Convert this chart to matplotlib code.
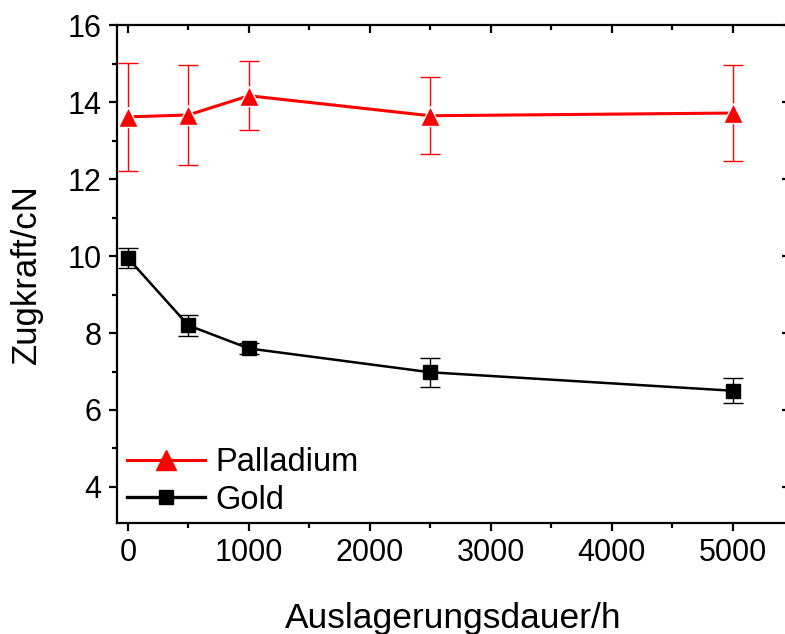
import numpy as np
import matplotlib
matplotlib.use('Agg')
import matplotlib.pyplot as plt
from matplotlib.ticker import MultipleLocator
from matplotlib.lines import Line2D

plt.rcParams['font.family'] = ['Liberation Sans', 'DejaVu Sans']

# Auslagerungsdauer (h)
hours = [0, 500, 1000, 2500, 5000]

# Zugkraft (cN)
pd_force = [13.62, 13.67, 14.17, 13.65, 13.72]
pd_err = [1.40, 1.30, 0.90, 1.00, 1.25]
au_force = [9.95, 8.20, 7.60, 6.98, 6.50]
au_err = [0.27, 0.28, 0.15, 0.37, 0.32]

RED = '#ff0000'

fig = plt.figure(figsize=(7.85, 6.34), dpi=100)
ax = fig.add_axes([0.149, 0.175, 0.857, 0.785])

ax.errorbar(hours, pd_force, yerr=pd_err, color=RED, lw=2.2,
            marker='^', ms=14, mec='white', mew=1.0, capsize=7,
            elinewidth=1.0, capthick=1.0, zorder=3)
ax.errorbar(hours, au_force, yerr=au_err, color='black', lw=1.8,
            marker='s', ms=10.5, capsize=7, elinewidth=1.0, capthick=1.0,
            zorder=3)

ax.set_xlim(-90, 5471)
ax.set_ylim(3.06, 16)
ax.xaxis.set_major_locator(MultipleLocator(1000))
ax.xaxis.set_minor_locator(MultipleLocator(500))
ax.yaxis.set_major_locator(MultipleLocator(2))
ax.yaxis.set_minor_locator(MultipleLocator(1))

for s in ax.spines.values():
    s.set_linewidth(1.6)

ax.tick_params(which='both', direction='out', width=1.6, labelsize=22,
               bottom=True, left=True, top=False, right=False, pad=5)
ax.tick_params(which='major', length=6)
ax.tick_params(which='minor', length=3.5)

# inward ticks on top and right, without labels
sec_x = ax.secondary_xaxis('top')
sec_x.xaxis.set_major_locator(MultipleLocator(1000))
sec_x.xaxis.set_minor_locator(MultipleLocator(500))
sec_x.tick_params(which='both', direction='in', width=1.6, labeltop=False)
sec_x.tick_params(which='major', length=6)
sec_x.tick_params(which='minor', length=3.5)
sec_x.spines['top'].set_visible(False)

sec_y = ax.secondary_yaxis('right')
sec_y.yaxis.set_major_locator(MultipleLocator(2))
sec_y.yaxis.set_minor_locator(MultipleLocator(1))
sec_y.tick_params(which='both', direction='in', width=1.6, labelright=False)
sec_y.tick_params(which='major', length=6)
sec_y.tick_params(which='minor', length=3.5)
sec_y.spines['right'].set_visible(False)

ax.set_xlabel('Auslagerungsdauer/h', fontsize=25.5, labelpad=24)
ax.set_ylabel('Zugkraft/cN', fontsize=25, labelpad=18)

handles = [
    Line2D([], [], color=RED, lw=2.2, marker='^', ms=14),
    Line2D([], [], color='black', lw=2.4, marker='s', ms=10.5),
]
ax.legend(handles, ['Palladium', 'Gold'], loc='lower left', fontsize=23.5,
          frameon=False, handlelength=2.4, handletextpad=0.3,
          labelspacing=0.2, borderaxespad=0, borderpad=0.3,
          bbox_to_anchor=(0.0, -0.005))

fig.savefig('out.png', dpi=100)
